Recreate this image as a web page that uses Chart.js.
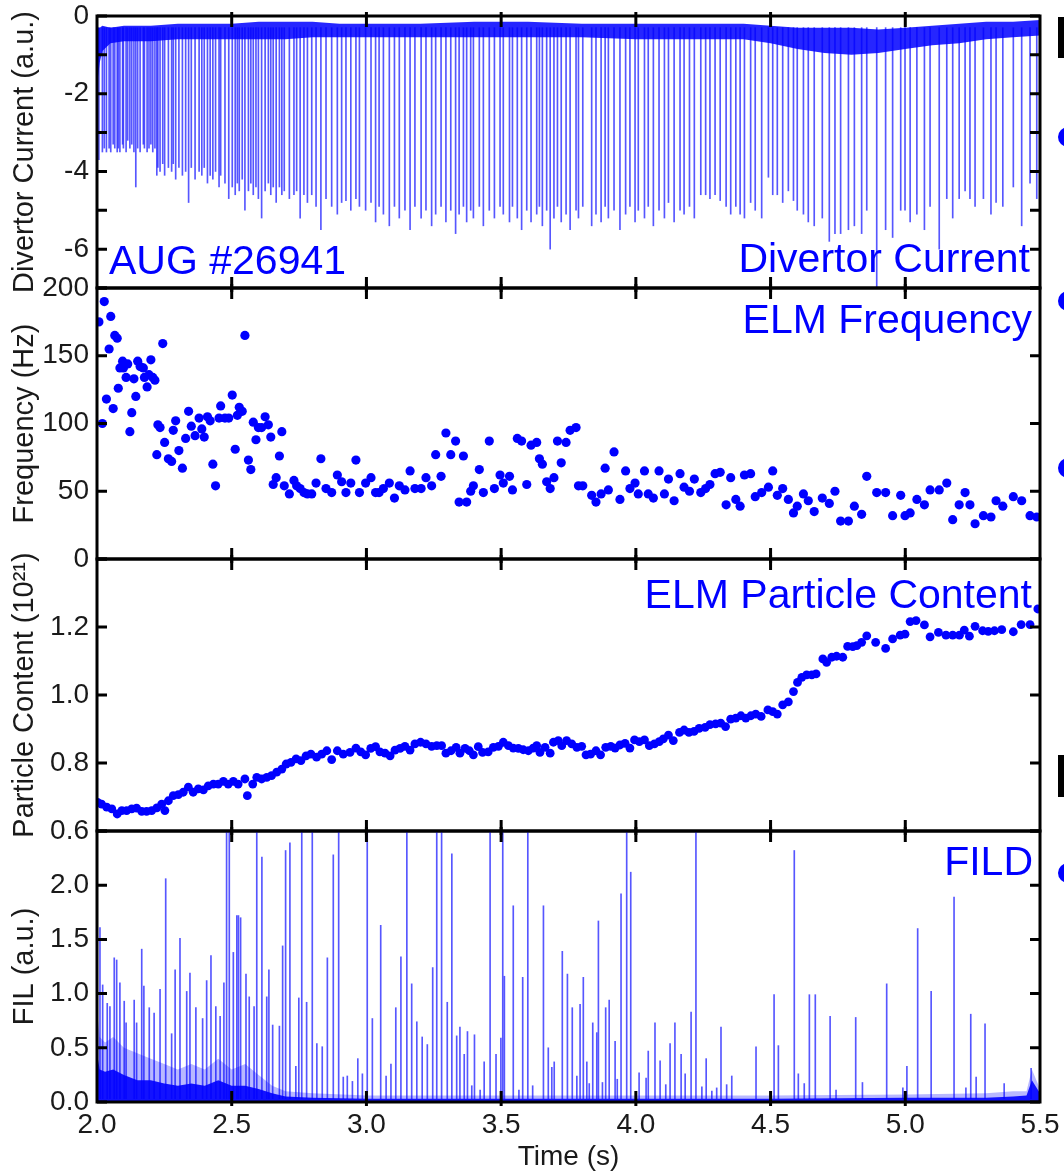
<!DOCTYPE html>
<html>
<head>
<meta charset="utf-8">
<script src="https://cdn.jsdelivr.net/npm/chart.js@4.4.0/dist/chart.umd.min.js"></script>
<style>
  body { margin: 0; width: 1064px; height: 1171px; overflow: hidden; position: relative; background: #fff; }
  canvas { position: absolute; left: 0; }
  .frag { position: absolute; background: #000; }
  .dot { position: absolute; width: 20px; height: 20px; border-radius: 50%; background: #0000ff; }
</style>
</head>
<body>
<canvas id="c1" width="1064" height="304" style="top:0px"></canvas>
<canvas id="c2" width="1064" height="303" style="top:272px"></canvas>
<canvas id="c3" width="1064" height="304" style="top:543px"></canvas>
<canvas id="c4" width="1064" height="356" style="top:815px"></canvas>

<!-- cut-off slide content at the right edge -->
<div class="frag" style="left:1058px;top:17px;width:12px;height:41px"></div>
<div class="frag" style="left:1058px;top:755px;width:12px;height:42px"></div>
<div class="dot" style="left:1058px;top:127px"></div>
<div class="dot" style="left:1058px;top:291px"></div>
<div class="dot" style="left:1058px;top:458px"></div>
<div class="dot" style="left:1058px;top:863px"></div>

<script>
// axis ticks
const xTickValues = [2.0, 2.5, 3.0, 3.5, 4.0, 4.5, 5.0, 5.5];
const xTickLabels = ['2.0', '2.5', '3.0', '3.5', '4.0', '4.5', '5.0', '5.5'];
const divTickValues = [-7, -6, -5, -4, -3, -2, -1, 0];
const divTickLabels = ['', '-6', '', '-4', '', '-2', '', '0'];
const freqTickValues = [0, 50, 100, 150, 200];
const freqTickLabels = ['0', '50', '100', '150', '200'];
const partTickValues = [0.6, 0.8, 1.0, 1.2, 1.4];
const partTickLabels = ['0.6', '0.8', '1.0', '1.2', ''];
const filTickValues = [0, 0.5, 1.0, 1.5, 2.0, 2.5];
const filTickLabels = ['0.0', '0.5', '1.0', '1.5', '2.0', ''];

// ELM times (s), ELM frequency (Hz) and divertor current spike depth (a.u.)
const elmTimes = [
  2.007, 2.020, 2.027, 2.035, 2.045, 2.051, 2.060, 2.066, 2.075, 2.079,
  2.085, 2.095, 2.098, 2.108, 2.114, 2.122, 2.129, 2.137, 2.144, 2.151,
  2.160, 2.172, 2.176, 2.186, 2.193, 2.200, 2.207, 2.215, 2.222, 2.226,
  2.234, 2.244, 2.251, 2.265, 2.277, 2.283, 2.292, 2.304, 2.317, 2.329,
  2.340, 2.350, 2.364, 2.379, 2.389, 2.398, 2.410, 2.420, 2.430, 2.440,
  2.453, 2.459, 2.475, 2.489, 2.502, 2.513, 2.521, 2.528, 2.539, 2.549,
  2.562, 2.571, 2.580, 2.590, 2.599, 2.611, 2.624, 2.636, 2.645, 2.654,
  2.665, 2.677, 2.686, 2.695, 2.714, 2.731, 2.741, 2.754, 2.768, 2.781,
  2.797, 2.813, 2.831, 2.850, 2.871, 2.892, 2.908, 2.924, 2.942, 2.961,
  2.974, 2.997, 3.017, 3.034, 3.047, 3.063, 3.085, 3.104, 3.122, 3.143,
  3.162, 3.180, 3.203, 3.221, 3.242, 3.257, 3.277, 3.295, 3.313, 3.331,
  3.344, 3.360, 3.372, 3.387, 3.397, 3.419, 3.434, 3.456, 3.475, 3.496,
  3.508, 3.531, 3.542, 3.560, 3.576, 3.595, 3.611, 3.632, 3.642, 3.653,
  3.669, 3.682, 3.696, 3.709, 3.723, 3.741, 3.756, 3.778, 3.787, 3.803,
  3.836, 3.852, 3.871, 3.886, 3.898, 3.919, 3.941, 3.962, 3.978, 3.997,
  4.009, 4.032, 4.046, 4.065, 4.086, 4.106, 4.121, 4.142, 4.164, 4.179,
  4.199, 4.217, 4.241, 4.259, 4.275, 4.294, 4.313, 4.335, 4.352, 4.371,
  4.387, 4.403, 4.426, 4.443, 4.467, 4.492, 4.508, 4.525, 4.545, 4.566,
  4.585, 4.599, 4.622, 4.640, 4.662, 4.692, 4.718, 4.739, 4.760, 4.789,
  4.811, 4.838, 4.857, 4.894, 4.927, 4.953, 4.983, 4.999, 5.018, 5.043,
  5.071, 5.092, 5.126, 5.154, 5.176, 5.200, 5.222, 5.240, 5.259, 5.290,
  5.318, 5.337, 5.362, 5.401, 5.432, 5.463, 5.488
];
const elmFreq = [
  175, 100, 190, 118, 155, 179, 111, 165, 163, 126,
  141, 146, 141, 134, 144, 94, 108, 133, 120, 146,
  142, 141, 134, 127, 136, 147, 134, 132, 77, 99,
  97, 159, 86, 74, 72, 95, 102, 80, 67, 89,
  109, 98, 91, 104, 96, 90, 105, 102, 70, 54,
  104, 113, 104, 104, 121, 81, 106, 112, 109, 165,
  73, 66, 101, 88, 97, 97, 105, 99, 90, 55,
  60, 76, 94, 54, 48, 58, 54, 52, 49, 48,
  48, 56, 74, 52, 49, 62, 57, 49, 56, 73,
  49, 56, 60, 49, 49, 52, 56, 45, 54, 51,
  65, 52, 52, 60, 54, 77, 61, 93, 77, 87,
  42, 76, 42, 50, 54, 66, 49, 87, 52, 62,
  56, 61, 51, 89, 87, 55, 84, 86, 74, 70,
  57, 52, 60, 87, 71, 86, 95, 97, 54, 54,
  47, 42, 48, 67, 51, 79, 44, 65, 52, 56,
  48, 65, 48, 45, 65, 48, 59, 43, 63, 53,
  50, 59, 49, 52, 55, 63, 64, 40, 60, 44,
  39, 62, 63, 46, 49, 53, 65, 47, 52, 44,
  34, 39, 48, 43, 35, 45, 41, 50, 28, 28,
  39, 33, 61, 49, 49, 32, 47, 32, 34, 44,
  40, 51, 51, 56, 29, 40, 49, 40, 26, 32,
  31, 43, 39, 46, 43, 32, 31
];
const divDepth = [
  -3.7, -3.5, -3.4, -3.5, -3.4, -3.5, -3.3, -3.4, -3.5, -3.4,
  -3.5, -3.3, -3.4, -3.5, -3.2, -3.4, -3.3, -3.5, -4.4, -3.4,
  -3.5, -3.3, -3.4, -3.5, -3.4, -3.3, -3.5, -3.4, -4.1, -3.9,
  -4.0, -3.8, -4.1, -3.9, -4.0, -3.8, -4.2, -3.9, -4.1, -4.0,
  -4.8, -3.9, -4.2, -4.0, -4.1, -3.9, -4.3, -4.1, -4.2, -4.0,
  -4.4, -4.1, -4.3, -4.7, -4.4, -4.6, -4.3, -4.5, -4.2, -5.0,
  -4.5, -4.3, -4.6, -4.4, -4.7, -5.2, -4.5, -4.3, -4.6, -4.4,
  -4.8, -4.4, -4.6, -4.5, -4.7, -4.6, -4.5, -5.2, -4.6, -4.8,
  -4.6, -4.9, -5.5, -4.7, -4.9, -5.1, -4.8, -4.75, -5.0, -4.7,
  -4.9, -5.0, -4.8, -5.3, -4.9, -5.1, -5.4, -4.9, -5.2, -5.0,
  -5.5, -4.9, -5.2, -5.0, -5.4, -5.1, -4.9, -5.3, -5.0, -5.6,
  -5.1, -4.9, -5.3, -5.0, -5.2, -4.9, -5.4, -5.0, -5.2, -4.9,
  -5.1, -5.3, -4.9, -5.2, -5.5, -5.0, -5.3, -5.1, -4.9, -5.4,
  -5.0, -6.0, -5.2, -4.9, -5.3, -5.1, -5.5, -5.0, -5.2, -4.9,
  -5.4, -5.1, -5.3, -4.9, -5.2, -5.0, -5.5, -5.1, -4.9, -5.3,
  -5.0, -5.2, -4.9, -5.4, -5.0, -5.2, -4.8, -5.3, -5.0, -5.1,
  -4.9, -5.2, -4.6, -4.6, -4.7, -4.6, -4.75, -4.9, -5.1, -4.9,
  -5.1, -5.2, -4.8, -5.0, -5.2, -4.15, -4.6, -4.6, -4.8, -4.5,
  -4.75, -5.0, -5.1, -5.3, -5.4, -5.2, -5.8, -5.6, -5.6, -5.5,
  -5.4, -5.6, -5.0, -7.0, -5.5, -5.7, -5.0, -5.0, -5.3, -5.1,
  -5.5, -4.9, -6.0, -4.7, -5.2, -4.7, -4.5, -4.7, -4.9, -4.7,
  -5.1, -4.8, -4.9, -4.4, -5.4, -4.3, -4.7
];

// dense divertor current signal between ELMs (upper and lower edge)
const divBandTimes = [2.0, 2.01, 2.02, 2.05, 2.1, 2.2, 2.3, 2.4, 2.5, 2.6, 2.7, 2.8, 2.9, 3.0, 3.2, 3.4, 3.6, 3.8, 4.0, 4.2, 4.4, 4.5, 4.6, 4.7, 4.8, 4.9, 5.0, 5.1, 5.2, 5.3, 5.4, 5.5];
const divBandTop = [-0.3, -0.3, -0.25, -0.3, -0.25, -0.25, -0.2, -0.2, -0.2, -0.15, -0.15, -0.15, -0.2, -0.2, -0.2, -0.15, -0.15, -0.2, -0.2, -0.2, -0.2, -0.25, -0.3, -0.3, -0.3, -0.35, -0.3, -0.25, -0.2, -0.15, -0.15, -0.1];
const divBandBottom = [-1.8, -1.2, -0.9, -0.7, -0.65, -0.65, -0.6, -0.6, -0.6, -0.6, -0.6, -0.55, -0.55, -0.55, -0.55, -0.55, -0.55, -0.55, -0.6, -0.6, -0.6, -0.7, -0.85, -0.95, -1.0, -0.95, -0.85, -0.75, -0.7, -0.6, -0.55, -0.5];

// ELM particle content (10^21)
const partTimes = [
  2.002, 2.017, 2.036, 2.055, 2.075, 2.092, 2.110, 2.129, 2.147, 2.166,
  2.184, 2.203, 2.222, 2.240, 2.252, 2.265, 2.283, 2.302, 2.320, 2.339,
  2.357, 2.376, 2.395, 2.413, 2.432, 2.450, 2.469, 2.487, 2.506, 2.524,
  2.549, 2.558, 2.578, 2.593, 2.611, 2.630, 2.648, 2.667, 2.686, 2.702,
  2.720, 2.739, 2.757, 2.776, 2.794, 2.815, 2.834, 2.853, 2.871, 2.892,
  2.914, 2.939, 2.961, 2.979, 2.997, 3.016, 3.034, 3.050, 3.069, 3.088,
  3.106, 3.125, 3.143, 3.162, 3.180, 3.201, 3.221, 3.242, 3.261, 3.279,
  3.295, 3.314, 3.333, 3.347, 3.366, 3.382, 3.397, 3.415, 3.431, 3.452,
  3.471, 3.490, 3.508, 3.527, 3.545, 3.564, 3.582, 3.601, 3.619, 3.632,
  3.644, 3.663, 3.682, 3.694, 3.712, 3.725, 3.743, 3.762, 3.781, 3.799,
  3.815, 3.832, 3.852, 3.869, 3.888, 3.907, 3.923, 3.941, 3.960, 3.978,
  3.995, 4.013, 4.032, 4.050, 4.069, 4.087, 4.102, 4.121, 4.139, 4.162,
  4.179, 4.197, 4.216, 4.235, 4.257, 4.275, 4.296, 4.315, 4.333, 4.352,
  4.371, 4.390, 4.408, 4.427, 4.445, 4.465, 4.490, 4.508, 4.525, 4.545,
  4.566, 4.585, 4.600, 4.616, 4.634, 4.653, 4.669, 4.694, 4.708, 4.727,
  4.745, 4.768, 4.786, 4.805, 4.820, 4.838, 4.857, 4.890, 4.927, 4.953,
  4.981, 4.999, 5.018, 5.040, 5.071, 5.092, 5.123, 5.151, 5.176, 5.201,
  5.219, 5.238, 5.259, 5.287, 5.308, 5.331, 5.358, 5.401, 5.430, 5.463,
  5.492
];
const partValues = [
  0.684, 0.679, 0.670, 0.665, 0.650, 0.660, 0.660, 0.665, 0.667, 0.658,
  0.658, 0.660, 0.668, 0.679, 0.660, 0.689, 0.704, 0.707, 0.714, 0.729,
  0.714, 0.724, 0.721, 0.733, 0.738, 0.738, 0.746, 0.738, 0.746, 0.738,
  0.753, 0.704, 0.738, 0.758, 0.753, 0.758, 0.763, 0.773, 0.782, 0.797,
  0.802, 0.812, 0.807, 0.821, 0.826, 0.817, 0.826, 0.836, 0.810, 0.836,
  0.826, 0.831, 0.844, 0.833, 0.824, 0.843, 0.848, 0.833, 0.829, 0.821,
  0.838, 0.843, 0.849, 0.838, 0.856, 0.861, 0.856, 0.849, 0.851, 0.851,
  0.829, 0.836, 0.846, 0.829, 0.843, 0.836, 0.824, 0.848, 0.831, 0.833,
  0.846, 0.849, 0.861, 0.851, 0.844, 0.843, 0.839, 0.836, 0.844, 0.851,
  0.831, 0.846, 0.829, 0.861, 0.866, 0.851, 0.866, 0.856, 0.846, 0.849,
  0.824, 0.826, 0.836, 0.824, 0.846, 0.849, 0.844, 0.853, 0.858, 0.844,
  0.868, 0.863, 0.868, 0.851, 0.856, 0.863, 0.871, 0.882, 0.866, 0.890,
  0.897, 0.890, 0.893, 0.902, 0.905, 0.913, 0.915, 0.917, 0.907, 0.929,
  0.932, 0.939, 0.932, 0.939, 0.944, 0.937, 0.956, 0.951, 0.944, 0.971,
  0.980, 1.010, 1.037, 1.052, 1.059, 1.059, 1.062, 1.106, 1.096, 1.111,
  1.114, 1.111, 1.143, 1.142, 1.145, 1.155, 1.174, 1.155, 1.137, 1.165,
  1.176, 1.179, 1.216, 1.219, 1.206, 1.171, 1.184, 1.176, 1.176, 1.176,
  1.191, 1.173, 1.202, 1.189, 1.187, 1.189, 1.192, 1.186, 1.207, 1.207,
  1.253
];

// FILD signal: individual bursts (a.u.), values above 2.5 run off the panel
const filTimes = [
  2.011, 2.021, 2.038, 2.048, 2.064, 2.073, 2.085, 2.101, 2.108, 2.138,
  2.147, 2.166, 2.174, 2.194, 2.212, 2.234, 2.255, 2.277, 2.290, 2.308,
  2.333, 2.345, 2.367, 2.392, 2.407, 2.423, 2.441, 2.457, 2.471, 2.481,
  2.491, 2.506, 2.519, 2.525, 2.533, 2.553, 2.565, 2.583, 2.593, 2.612,
  2.630, 2.638, 2.652, 2.677, 2.689, 2.700, 2.716, 2.738, 2.749, 2.760,
  2.778, 2.799, 2.816, 2.836, 2.855, 2.877, 2.897, 2.914, 2.929, 2.948,
  2.968, 2.985, 3.003, 3.022, 3.053, 3.073, 3.091, 3.109, 3.128, 3.150,
  3.168, 3.187, 3.207, 3.226, 3.246, 3.261, 3.279, 3.300, 3.317, 3.335,
  3.347, 3.363, 3.375, 3.391, 3.401, 3.422, 3.437, 3.459, 3.481, 3.499,
  3.506, 3.512, 3.545, 3.566, 3.580, 3.599, 3.617, 3.657, 3.675, 3.688,
  3.697, 3.727, 3.746, 3.764, 3.781, 3.793, 3.805, 3.818, 3.827, 3.840,
  3.855, 3.861, 3.876, 3.888, 3.901, 3.923, 3.931, 3.945, 3.966, 3.981,
  4.012, 4.038, 4.046, 4.071, 4.090, 4.111, 4.127, 4.145, 4.168, 4.183,
  4.205, 4.223, 4.245, 4.261, 4.282, 4.300, 4.316, 4.337, 4.356, 4.446,
  4.513, 4.529, 4.588, 4.603, 4.625, 4.644, 4.666, 4.721, 4.743, 4.816,
  4.841, 4.931, 4.991, 5.006, 5.046, 5.096, 5.181, 5.225, 5.243, 5.263,
  5.296, 5.367, 5.467
];
const filPeaks = [
  1.61, 1.08, 0.91, 0.88, 1.33, 1.31, 1.10, 0.93, 0.73, 0.94,
  0.73, 1.41, 1.07, 0.87, 0.82, 1.04, 2.06, 0.63, 1.22, 1.51,
  1.02, 1.19, 0.87, 0.77, 1.12, 1.35, 0.88, 0.79, 1.10, 2.60,
  2.60, 1.38, 1.72, 1.72, 1.70, 1.18, 0.97, 0.88, 2.60, 2.26,
  0.97, 1.22, 0.71, 0.70, 1.44, 2.32, 2.39, 0.33, 0.96, 2.60,
  0.92, 2.60, 0.54, 0.51, 1.33, 2.28, 2.60, 0.23, 0.24, 0.19,
  0.40, 0.26, 2.60, 0.77, 1.63, 0.24, 0.35, 0.87, 1.34, 2.60,
  1.09, 0.74, 0.60, 0.53, 1.24, 2.60, 2.60, 0.92, 2.29, 0.61,
  0.69, 0.44, 0.65, 0.15, 0.62, 0.11, 0.37, 2.60, 0.44, 0.59,
  2.60, 1.16, 1.81, 0.11, 1.15, 2.60, 0.15, 1.81, 0.50, 0.32,
  0.37, 1.39, 1.18, 0.87, 0.24, 0.90, 1.15, 0.37, 0.17, 0.73,
  0.64, 1.67, 0.18, 0.87, 0.94, 0.56, 0.21, 1.92, 2.60, 2.12,
  0.27, 0.22, 0.47, 0.73, 0.38, 0.16, 0.54, 0.73, 0.44, 0.26,
  0.83, 2.60, 0.14, 0.40, 0.10, 0.13, 0.69, 0.16, 0.24, 0.51,
  0.99, 0.52, 2.32, 0.26, 0.17, 0.99, 0.99, 0.79, 0.11, 0.78,
  0.18, 1.09, 0.13, 0.33, 1.60, 1.02, 1.89, 0.13, 0.81, 0.23,
  0.72, 0.17, 0.31
];

// FILD noise floor envelopes
const filBandTimes = [2.0, 2.01, 2.03, 2.06, 2.1, 2.15, 2.2, 2.25, 2.3, 2.35, 2.4, 2.45, 2.5, 2.55, 2.6, 2.65, 2.7, 2.8, 3.0, 3.5, 4.0, 4.5, 5.0, 5.3, 5.4, 5.45, 5.47, 5.5];
const filBandLight = [0.85, 0.6, 0.55, 0.6, 0.5, 0.45, 0.4, 0.35, 0.3, 0.35, 0.3, 0.4, 0.3, 0.35, 0.25, 0.15, 0.1, 0.08, 0.06, 0.06, 0.06, 0.06, 0.07, 0.08, 0.1, 0.1, 0.3, 0.12];
const filBandSolid = [0.45, 0.3, 0.28, 0.3, 0.25, 0.2, 0.2, 0.17, 0.15, 0.17, 0.15, 0.2, 0.15, 0.15, 0.12, 0.08, 0.05, 0.04, 0.03, 0.03, 0.03, 0.03, 0.04, 0.04, 0.05, 0.06, 0.2, 0.08];

const blue = '#0000ff';
const fontFamily = '"Liberation Sans", Arial, Helvetica, sans-serif';
const tickFont = { family: fontFamily, size: 28 };
const titleFont = { family: fontFamily, size: 29, lineHeight: 1.2 };

Chart.defaults.font.family = fontFamily;

function pts(xs, ys) {
  return xs.map((x, i) => ({ x: x, y: ys[i] }));
}

function yAxis(min, max, values, labels, title) {
  return {
    type: 'linear',
    min: min,
    max: max,
    afterBuildTicks: s => { s.ticks = values.map(v => ({ value: v })); },
    afterFit: s => { s.width = 97; s.paddingTop = 0; s.paddingBottom = 0; },
    ticks: { callback: (v, i) => labels[i], font: tickFont, color: '#1a1a1a', padding: 8, autoSkip: false },
    grid: { display: false, drawTicks: false },
    border: { display: false },
    title: { display: true, text: title, font: titleFont, color: '#1a1a1a', padding: { top: 8, bottom: 0 } }
  };
}

function xAxis(show) {
  return {
    type: 'linear',
    min: 2,
    max: 5.5,
    display: show,
    offset: false,
    afterBuildTicks: s => { s.ticks = xTickValues.map(v => ({ value: v })); },
    afterFit: s => { s.height = show ? 69 : 0; s.paddingLeft = 0; s.paddingRight = 0; },
    ticks: { callback: (v, i) => xTickLabels[i], font: tickFont, color: '#1a1a1a', padding: 6, autoSkip: false, maxRotation: 0, minRotation: 0 },
    grid: { display: false, drawTicks: false },
    border: { display: false },
    title: { display: true, text: 'Time (s)', font: { family: fontFamily, size: 28, lineHeight: 1 }, color: '#1a1a1a', padding: 0 }
  };
}

// box, inward ticks and the blue panel captions
function makeFrame(yValues, captions) {
  return {
    id: 'frame',
    afterDraw(chart) {
      const ctx = chart.ctx;
      const a = chart.chartArea;
      const x = chart.scales.x;
      const y = chart.scales.y;
      ctx.save();
      ctx.strokeStyle = '#000';
      ctx.lineWidth = 3;
      ctx.beginPath();
      xTickValues.slice(1, -1).forEach(v => {
        const px = x.getPixelForValue(v);
        ctx.moveTo(px, a.top - 4);
        ctx.lineTo(px, a.top + 11);
        ctx.moveTo(px, a.bottom + 4);
        ctx.lineTo(px, a.bottom - 11);
      });
      yValues.forEach(v => {
        const py = y.getPixelForValue(v);
        ctx.moveTo(a.left, py);
        ctx.lineTo(a.left + 10, py);
        ctx.moveTo(a.right, py);
        ctx.lineTo(a.right - 10, py);
      });
      ctx.stroke();
      ctx.strokeRect(a.left, a.top, a.right - a.left, a.bottom - a.top);

      ctx.fillStyle = blue;
      ctx.font = '41px ' + fontFamily;
      ctx.textBaseline = 'alphabetic';
      captions.forEach(c => {
        ctx.textAlign = c.align;
        ctx.fillText(c.text, c.x, a.top + c.dy);
      });
      ctx.restore();
    }
  };
}

function baseOptions(showX, yCfg, padBottom) {
  return {
    responsive: false,
    animation: false,
    layout: { padding: { top: 16, bottom: padBottom, left: 0, right: 24 } },
    plugins: { legend: { display: false }, tooltip: { enabled: false } },
    scales: { x: xAxis(showX), y: yCfg }
  };
}

// Divertor current
new Chart(document.getElementById('c1'), {
  type: 'scatter',
  data: {
    datasets: [
      { type: 'line', data: pts(divBandTimes, divBandTop), borderWidth: 0, pointRadius: 0, fill: '+1', backgroundColor: 'rgba(0,0,255,0.85)' },
      { type: 'line', data: pts(divBandTimes, divBandBottom), borderWidth: 0, pointRadius: 0, fill: false },
      {
        type: 'bar',
        data: elmTimes.map((t, i) => ({ x: t, y: [-0.3, divDepth[i]] })),
        backgroundColor: 'rgba(30,30,255,0.75)',
        barThickness: 1,
        grouped: false,
        clip: 0
      }
    ]
  },
  options: baseOptions(false, yAxis(-7, 0, divTickValues, divTickLabels, 'Divertor Current (a.u.)'), 16),
  plugins: [makeFrame(divTickValues, [
    { text: 'Divertor Current', x: 1030, dy: 256, align: 'right' },
    { text: 'AUG #26941', x: 109, dy: 258, align: 'left' }
  ])]
});

// ELM frequency
new Chart(document.getElementById('c2'), {
  type: 'scatter',
  data: {
    datasets: [
      { data: pts(elmTimes, elmFreq), pointRadius: 4.6, pointBackgroundColor: blue, pointBorderWidth: 0 }
    ]
  },
  options: baseOptions(false, yAxis(0, 200, freqTickValues, freqTickLabels, 'Frequency (Hz)'), 16),
  plugins: [makeFrame(freqTickValues, [
    { text: 'ELM Frequency', x: 1032, dy: 45, align: 'right' }
  ])]
});

// ELM particle content
new Chart(document.getElementById('c3'), {
  type: 'scatter',
  data: {
    datasets: [
      { data: pts(partTimes, partValues), pointRadius: 4.4, pointBackgroundColor: blue, pointBorderWidth: 0 }
    ]
  },
  options: baseOptions(false, yAxis(0.6, 1.4, partTickValues, partTickLabels, 'Particle Content (10²¹)'), 16),
  plugins: [makeFrame(partTickValues, [
    { text: 'ELM Particle Content', x: 1032, dy: 49, align: 'right' }
  ])]
});

// FILD
new Chart(document.getElementById('c4'), {
  type: 'scatter',
  data: {
    datasets: [
      { type: 'line', data: pts(filBandTimes, filBandLight), borderWidth: 0, pointRadius: 0, fill: 'origin', backgroundColor: 'rgba(0,0,255,0.28)' },
      { type: 'line', data: pts(filBandTimes, filBandSolid), borderWidth: 0, pointRadius: 0, fill: 'origin', backgroundColor: 'rgba(0,0,255,0.9)' },
      {
        type: 'bar',
        data: filTimes.map((t, i) => ({ x: t, y: [0.03, filPeaks[i]] })),
        backgroundColor: 'rgba(30,30,255,0.75)',
        barThickness: 1,
        grouped: false,
        clip: 0
      }
    ]
  },
  options: baseOptions(true, yAxis(0, 2.5, filTickValues, filTickLabels, 'FIL (a.u.)'), 0),
  plugins: [makeFrame(filTickValues, [
    { text: 'FILD', x: 1033, dy: 44, align: 'right' }
  ])]
});
</script>
</body>
</html>
